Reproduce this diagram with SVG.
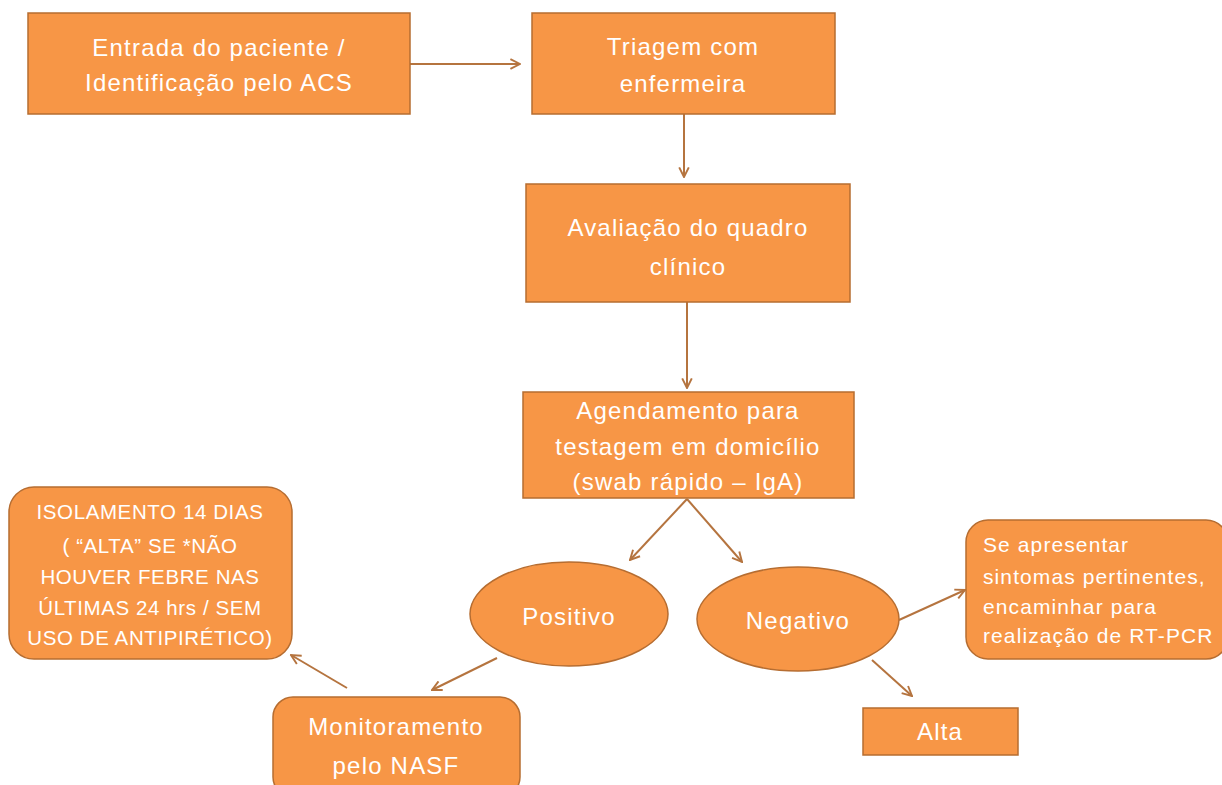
<svg xmlns="http://www.w3.org/2000/svg" width="1222" height="785" viewBox="0 0 1222 785">
<defs>
<style>
.n{fill:#F79646;stroke:#B66D31;stroke-width:1.5}
.t{font-family:"Liberation Sans",Arial,sans-serif;font-size:24px;letter-spacing:1.2px;fill:#FFFFFF;text-anchor:middle}
.s{font-family:"Liberation Sans",Arial,sans-serif;font-size:21px;letter-spacing:1.1px;fill:#FFFFFF}
.u{font-family:"Liberation Sans",Arial,sans-serif;font-size:20.5px;letter-spacing:0.6px;fill:#FFFFFF;text-anchor:middle}
.c{stroke:#B5743F;stroke-width:2;fill:none;marker-end:url(#ah)}
</style>
<marker id="ah" viewBox="0 0 10 10" refX="9" refY="5" markerWidth="12" markerHeight="12" orient="auto" markerUnits="userSpaceOnUse">
<path d="M1,1 L9,5 L1,9" fill="none" stroke="#B5743F" stroke-width="1.6"/>
</marker>
</defs>
<rect width="1222" height="785" fill="#FFFFFF"/>
<g id="connectors">
<path class="c" d="M410,64 L520,64"/>
<path class="c" d="M684,114 L684,177"/>
<path class="c" d="M687,302 L687,388"/>
<path class="c" d="M687,499 L630,560"/>
<path class="c" d="M687,499 L742,562"/>
<path class="c" d="M899,620 L965,590"/>
<path class="c" d="M872,660 L912,696"/>
<path class="c" d="M497,658 L432,690"/>
<path class="c" d="M347,688 L291,655"/>
</g>
<g id="entrada">
<rect class="n" x="28" y="13" width="382" height="101"/>
<text class="t" x="219" y="56">Entrada do paciente /</text>
<text class="t" x="219" y="91">Identificação pelo ACS</text>
</g>
<g id="triagem">
<rect class="n" x="532" y="13" width="303" height="101"/>
<text class="t" x="683" y="55">Triagem com</text>
<text class="t" x="683" y="92">enfermeira</text>
</g>
<g id="avaliacao">
<rect class="n" x="526" y="184" width="324" height="118"/>
<text class="t" x="688" y="236">Avaliação do quadro</text>
<text class="t" x="688" y="275">clínico</text>
</g>
<g id="agendamento">
<rect class="n" x="523" y="392" width="331" height="106"/>
<text class="t" x="688" y="419">Agendamento para</text>
<text class="t" x="688" y="455">testagem em domicílio</text>
<text class="t" x="688" y="490">(swab rápido – IgA)</text>
</g>
<g id="positivo">
<ellipse class="n" cx="569" cy="614" rx="99" ry="52"/>
<text class="t" x="569" y="625">Positivo</text>
</g>
<g id="negativo">
<ellipse class="n" cx="798" cy="619" rx="101" ry="52"/>
<text class="t" x="798" y="629">Negativo</text>
</g>
<g id="sintomas">
<rect class="n" x="966" y="520" width="262" height="139" rx="22"/>
<text class="s" x="983" y="552">Se apresentar</text>
<text class="s" x="983" y="584">sintomas pertinentes,</text>
<text class="s" x="983" y="614">encaminhar para</text>
<text class="s" x="983" y="643">realização de RT-PCR</text>
</g>
<g id="alta">
<rect class="n" x="863" y="708" width="155" height="47"/>
<text class="t" x="940" y="740">Alta</text>
</g>
<g id="monitoramento">
<rect class="n" x="273" y="697" width="247" height="100" rx="20"/>
<text class="t" x="396" y="735">Monitoramento</text>
<text class="t" x="396" y="774">pelo NASF</text>
</g>
<g id="isolamento">
<rect class="n" x="9" y="487" width="283" height="172" rx="25"/>
<text class="u" x="150" y="519">ISOLAMENTO 14 DIAS</text>
<text class="u" x="150" y="553">( “ALTA” SE *NÃO</text>
<text class="u" x="150" y="584">HOUVER FEBRE NAS</text>
<text class="u" x="150" y="615">ÚLTIMAS 24 hrs / SEM</text>
<text class="u" x="150" y="645">USO DE ANTIPIRÉTICO)</text>
</g>
</svg>
